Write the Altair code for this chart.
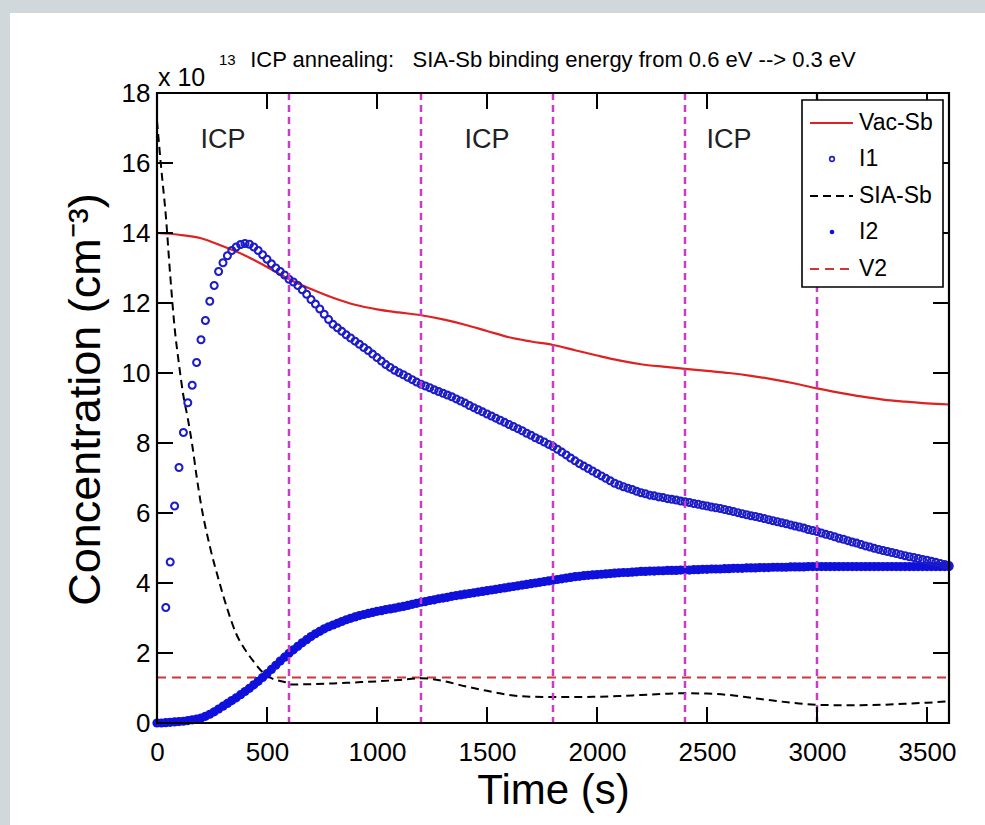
import altair as alt
import pandas as pd

FONT = "Liberation Sans"

# ---------------- data ----------------
# common sampling grid (s) for the two marker series
T20 = [
    0, 20, 40, 60, 80, 100, 120, 140, 160, 180,
    200, 220, 240, 260, 280, 300, 320, 340, 360, 380,
    400, 420, 440, 460, 480, 500, 520, 540, 560, 580,
    600, 620, 640, 660, 680, 700, 720, 740, 760, 780,
    800, 820, 840, 860, 880, 900, 920, 940, 960, 980,
    1000, 1020, 1040, 1060, 1080, 1100, 1120, 1140, 1160, 1180,
    1200, 1220, 1240, 1260, 1280, 1300, 1320, 1340, 1360, 1380,
    1400, 1420, 1440, 1460, 1480, 1500, 1520, 1540, 1560, 1580,
    1600, 1620, 1640, 1660, 1680, 1700, 1720, 1740, 1760, 1780,
    1800, 1820, 1840, 1860, 1880, 1900, 1920, 1940, 1960, 1980,
    2000, 2020, 2040, 2060, 2080, 2100, 2120, 2140, 2160, 2180,
    2200, 2220, 2240, 2260, 2280, 2300, 2320, 2340, 2360, 2380,
    2400, 2420, 2440, 2460, 2480, 2500, 2520, 2540, 2560, 2580,
    2600, 2620, 2640, 2660, 2680, 2700, 2720, 2740, 2760, 2780,
    2800, 2820, 2840, 2860, 2880, 2900, 2920, 2940, 2960, 2980,
    3000, 3020, 3040, 3060, 3080, 3100, 3120, 3140, 3160, 3180,
    3200, 3220, 3240, 3260, 3280, 3300, 3320, 3340, 3360, 3380,
    3400, 3420, 3440, 3460, 3480, 3500, 3520, 3540, 3560, 3580,
    3600,
]

I1_V = [
    None, None, 3.3, 4.6, 6.2, 7.3, 8.3, 9.15, 9.65, 10.3,
    10.95, 11.5, 12.05, 12.5, 12.9, 13.15, 13.35, 13.5, 13.6, 13.67,
    13.7, 13.68, 13.6, 13.5, 13.38, 13.25, 13.12, 13.0, 12.9, 12.8,
    12.68, 12.6, 12.5, 12.38, 12.25, 12.1, 11.97, 11.83, 11.68, 11.53,
    11.39, 11.29, 11.19, 11.09, 11.0, 10.91, 10.82, 10.73, 10.64, 10.54,
    10.44, 10.34, 10.24, 10.16, 10.08, 10.01, 9.95, 9.88, 9.81, 9.74,
    9.68, 9.63, 9.58, 9.52, 9.47, 9.42, 9.37, 9.32, 9.26, 9.2,
    9.14, 9.07, 9.01, 8.95, 8.89, 8.83, 8.77, 8.71, 8.65, 8.59,
    8.53, 8.47, 8.41, 8.35, 8.28, 8.22, 8.15, 8.09, 8.03, 7.96,
    7.9, 7.82, 7.74, 7.66, 7.57, 7.49, 7.41, 7.34, 7.27, 7.2,
    7.13, 7.06, 6.99, 6.92, 6.85, 6.8, 6.75, 6.71, 6.67, 6.62,
    6.58, 6.55, 6.51, 6.49, 6.46, 6.44, 6.41, 6.39, 6.37, 6.34,
    6.32, 6.3, 6.27, 6.25, 6.22, 6.2, 6.17, 6.15, 6.13, 6.1,
    6.07, 6.04, 6.01, 5.98, 5.95, 5.92, 5.9, 5.87, 5.84, 5.81,
    5.78, 5.75, 5.72, 5.69, 5.66, 5.63, 5.6, 5.57, 5.53, 5.5,
    5.47, 5.43, 5.39, 5.36, 5.32, 5.28, 5.25, 5.21, 5.17, 5.14,
    5.1, 5.06, 5.03, 4.99, 4.96, 4.93, 4.9, 4.87, 4.84, 4.81,
    4.78, 4.75, 4.73, 4.7, 4.67, 4.65, 4.62, 4.59, 4.56, 4.53,
    4.5,
]

I2_V = [
    0.0, 0.0, 0.01, 0.02, 0.03, 0.04, 0.05, 0.07, 0.09, 0.11,
    0.14, 0.19, 0.25, 0.32, 0.4, 0.48, 0.56, 0.64, 0.72, 0.81,
    0.9, 0.99, 1.09, 1.19, 1.3, 1.41, 1.53, 1.65, 1.77, 1.88,
    1.99, 2.09, 2.19, 2.29, 2.38, 2.47, 2.55, 2.62, 2.69, 2.75,
    2.8, 2.85, 2.9, 2.95, 2.99, 3.03, 3.07, 3.1, 3.13, 3.16,
    3.19, 3.21, 3.24, 3.26, 3.28, 3.31, 3.33, 3.36, 3.39, 3.42,
    3.45, 3.47, 3.5, 3.52, 3.55, 3.57, 3.59, 3.62, 3.64, 3.66,
    3.68, 3.7, 3.72, 3.74, 3.76, 3.78, 3.8, 3.82, 3.84, 3.86,
    3.88, 3.9, 3.92, 3.94, 3.96, 3.98, 4.0, 4.02, 4.04, 4.06,
    4.08, 4.1, 4.12, 4.14, 4.16, 4.18, 4.19, 4.21, 4.22, 4.23,
    4.24, 4.25, 4.26, 4.27, 4.28, 4.29, 4.3, 4.3, 4.31, 4.32,
    4.33, 4.33, 4.34, 4.34, 4.35, 4.35, 4.36, 4.36, 4.36, 4.37,
    4.37, 4.37, 4.38, 4.38, 4.39, 4.39, 4.4, 4.4, 4.4, 4.41,
    4.41, 4.42, 4.42, 4.42, 4.43, 4.43, 4.43, 4.44, 4.44, 4.44,
    4.45, 4.45, 4.45, 4.45, 4.46, 4.46, 4.46, 4.46, 4.47, 4.47,
    4.47, 4.47, 4.47, 4.47, 4.47, 4.47, 4.47, 4.47, 4.47, 4.47,
    4.47, 4.47, 4.47, 4.47, 4.47, 4.47, 4.47, 4.47, 4.47, 4.47,
    4.47, 4.47, 4.47, 4.47, 4.47, 4.47, 4.47, 4.47, 4.47, 4.47,
    4.47,
]

VAC_T = [0, 100, 200, 300, 400, 500, 600, 700, 800, 900, 1000, 1100, 1200,
         1300, 1400, 1500, 1600, 1700, 1800, 1900, 2000, 2100, 2200, 2300,
         2400, 2500, 2600, 2700, 2800, 2900, 3000, 3100, 3200, 3300, 3400,
         3500, 3600]
VAC_V = [14.0, 13.95, 13.85, 13.62, 13.36, 13.03, 12.68, 12.4, 12.15, 11.95,
         11.82, 11.73, 11.65, 11.53, 11.38, 11.2, 11.02, 10.9, 10.8, 10.65,
         10.5, 10.36, 10.25, 10.18, 10.12, 10.06, 10.0, 9.92, 9.82, 9.7,
         9.56, 9.44, 9.33, 9.24, 9.18, 9.13, 9.1]

SIA_T = [0, 20, 40, 60, 80, 100, 120, 140, 160, 180, 200, 240, 280, 320, 360,
         400, 440, 480, 520, 560, 590, 600, 700, 800, 900, 1000, 1100, 1200,
         1300, 1400, 1500, 1600, 1700, 1800, 1900, 2000, 2100, 2200, 2300,
         2400, 2500, 2600, 2700, 2800, 2900, 3000, 3100, 3200, 3300, 3400,
         3500, 3600]
SIA_V = [17.2, 15.8, 14.5, 12.8, 11.3, 10.25, 9.35, 8.7, 7.95, 7.05, 6.25,
         5.05, 4.1, 3.25, 2.55, 2.1, 1.75, 1.45, 1.28, 1.2, 1.15, 1.1, 1.11,
         1.13, 1.16, 1.19, 1.23, 1.28, 1.2, 1.05, 0.92, 0.8, 0.75, 0.74,
         0.74, 0.75, 0.77, 0.8, 0.83, 0.85, 0.84, 0.8, 0.72, 0.64, 0.57,
         0.52, 0.51, 0.51, 0.52, 0.55, 0.58, 0.62]

V2_T = [0, 3600]
V2_V = [1.3, 1.3]

ICP_BOUNDS = [600, 1200, 1800, 2400, 3000]
ICP_LABEL_T = [300, 1500, 2600]
ICP_LABEL_V = [16.66, 16.66, 16.66]

X_TICKS = [0, 500, 1000, 1500, 2000, 2500, 3000, 3500]
Y_TICKS = [0, 2, 4, 6, 8, 10, 12, 14, 16, 18]

LEGEND_LABELS = ["Vac-Sb", "I1", "SIA-Sb", "I2", "V2"]
NB = "\u00a0"
TITLE = "ICP annealing:" + NB * 3 + "SIA-Sb binding energy from 0.6 eV --> 0.3 eV"

# ---------------- styling ----------------
W, H = 792, 630
RED = "#dd2222"
V2RED = "#cc3838"
BLUE1 = "#1c1cc8"
BLUE2 = "#1010dc"
MAG = "#c83cc8"

XS = alt.Scale(domain=[0, 3600], nice=False, zero=False)
YS = alt.Scale(domain=[0, 18], nice=False, zero=False)

XAXIS = alt.Axis(values=X_TICKS, format="d", title="Time (s)", ticks=False, domain=False,
                 grid=False, labelFlush=False, labelOverlap=False,
                 labelFontSize=26, labelPadding=16, labelFont=FONT,
                 labelColor="black", titleFont=FONT, titleFontSize=42,
                 titleFontWeight="normal", titleColor="black",
                 titleY=80, titleBaseline="alphabetic", zindex=1)
YAXIS = alt.Axis(values=Y_TICKS, format="d", title="Concentration (cm⁻³)", ticks=False,
                 domain=False, grid=False, labelOverlap=False,
                 labelFontSize=26, labelPadding=7, labelFont=FONT,
                 labelColor="black", titleFont=FONT, titleFontSize=45,
                 titleFontWeight="normal", titleColor="black",
                 titleX=-72, titleY=306, titleAngle=270,
                 titleAlign="center", titleBaseline="middle", zindex=1)

X = alt.X("t:Q", scale=XS, axis=XAXIS)
Y = alt.Y("v:Q", scale=YS, axis=YAXIS)

ONE = pd.DataFrame({"k": [0]})

i1 = pd.DataFrame({"t": T20, "v": I1_V}).dropna()
i2 = pd.DataFrame({"t": T20, "v": I2_V})
vac = pd.DataFrame({"t": VAC_T, "v": VAC_V})
sia = pd.DataFrame({"t": SIA_T, "v": SIA_V})
v2 = pd.DataFrame({"t": V2_T, "v": V2_V})
bounds = pd.DataFrame({"t": ICP_BOUNDS})
icp = pd.DataFrame({"t": ICP_LABEL_T, "v": ICP_LABEL_V})
xt = pd.DataFrame({"t": X_TICKS[1:]})
yt = pd.DataFrame({"v": Y_TICKS[1:-1]})

layers = []

# white figure sheet over the grey surround
layers.append(alt.Chart(ONE).mark_rect(color="white").encode(
    x=alt.value(-147), x2=alt.value(828), y=alt.value(-80), y2=alt.value(732)))

layers.append(alt.Chart(v2).mark_line(color=V2RED, strokeWidth=2, strokeDash=[9, 6]).encode(x=X, y=Y))
layers.append(alt.Chart(vac).mark_line(color=RED, strokeWidth=2.2, interpolate="monotone").encode(x=X, y=Y))
layers.append(alt.Chart(sia).mark_line(color="black", strokeWidth=2, strokeDash=[8, 5], interpolate="monotone").encode(x=X, y=Y))
layers.append(alt.Chart(i2).mark_point(shape="circle", filled=True, size=85, opacity=1, color=BLUE2).encode(x=X, y=Y))
layers.append(alt.Chart(i1).mark_point(shape="circle", filled=False, size=48, strokeWidth=2.1, opacity=1, color=BLUE1).encode(x=X, y=Y))
layers.append(alt.Chart(bounds).mark_rule(color=MAG, strokeWidth=2.5, strokeDash=[7, 5]).encode(x=X))
layers.append(alt.Chart(icp).mark_text(text="ICP", font=FONT, fontSize=27, color="#222222",
                                       align="center", baseline="middle").encode(x=X, y=Y))

# inward ticks on all four sides
TL = 16
layers.append(alt.Chart(xt).mark_rule(color="black", strokeWidth=2).encode(x=X, y=alt.value(H), y2=alt.value(H - TL)))
layers.append(alt.Chart(xt).mark_rule(color="black", strokeWidth=2).encode(x=X, y=alt.value(0), y2=alt.value(TL)))
layers.append(alt.Chart(yt).mark_rule(color="black", strokeWidth=2).encode(y=Y, x=alt.value(0), x2=alt.value(TL)))
layers.append(alt.Chart(yt).mark_rule(color="black", strokeWidth=2).encode(y=Y, x=alt.value(W), x2=alt.value(W - TL)))

# plot frame
layers.append(alt.Chart(ONE).mark_rect(fillOpacity=0, stroke="black", strokeWidth=2.2).encode(
    x=alt.value(0), x2=alt.value(W), y=alt.value(0), y2=alt.value(H)))

# legend
LX0, LX1, LY0, LY1 = 645, 786, 7, 194
ROWS = [30, 66, 103, 139, 176]
layers.append(alt.Chart(ONE).mark_rect(fill="white", stroke="black", strokeWidth=1.6).encode(
    x=alt.value(LX0), x2=alt.value(LX1), y=alt.value(LY0), y2=alt.value(LY1)))
layers.append(alt.Chart(ONE).mark_rule(color=RED, strokeWidth=2.2).encode(
    x=alt.value(653), x2=alt.value(696), y=alt.value(ROWS[0])))
layers.append(alt.Chart(ONE).mark_point(shape="circle", filled=False, size=22, strokeWidth=1.6, opacity=1, color=BLUE1).encode(
    x=alt.value(675), y=alt.value(ROWS[1])))
layers.append(alt.Chart(ONE).mark_rule(color="black", strokeWidth=2, strokeDash=[8, 5]).encode(
    x=alt.value(653), x2=alt.value(696), y=alt.value(ROWS[2])))
layers.append(alt.Chart(ONE).mark_point(shape="circle", filled=True, size=22, opacity=1, color=BLUE2).encode(
    x=alt.value(675), y=alt.value(ROWS[3])))
layers.append(alt.Chart(ONE).mark_rule(color=V2RED, strokeWidth=2, strokeDash=[9, 6]).encode(
    x=alt.value(653), x2=alt.value(696), y=alt.value(ROWS[4])))
for lab, ry in zip(LEGEND_LABELS, ROWS):
    layers.append(alt.Chart(ONE).mark_text(text=lab, font=FONT, fontSize=23, color="black",
                                           align="left", baseline="middle").encode(
        x=alt.value(702), y=alt.value(ry)))

# title and exponent
layers.append(alt.Chart(ONE).mark_text(text=TITLE, font=FONT, fontSize=22, color="black",
                                       align="center", baseline="middle").encode(
    x=alt.value(396), y=alt.value(-33)))
layers.append(alt.Chart(ONE).mark_text(text="x 10", font=FONT, fontSize=25, color="black",
                                       align="left", baseline="middle").encode(
    x=alt.value(1), y=alt.value(-15)))
layers.append(alt.Chart(ONE).mark_text(text="13", font=FONT, fontSize=15, color="black",
                                       align="left", baseline="middle").encode(
    x=alt.value(62), y=alt.value(-33)))

chart = alt.layer(*layers).properties(
    width=W, height=H,
    autosize=alt.AutoSizeParams(type="none"),
    padding={"left": 157, "top": 93, "right": 36, "bottom": 102},
    background="#d0d8db",
).configure_view(stroke=None)

chart.save("out.html", embed_options={"renderer": "svg", "actions": False})
